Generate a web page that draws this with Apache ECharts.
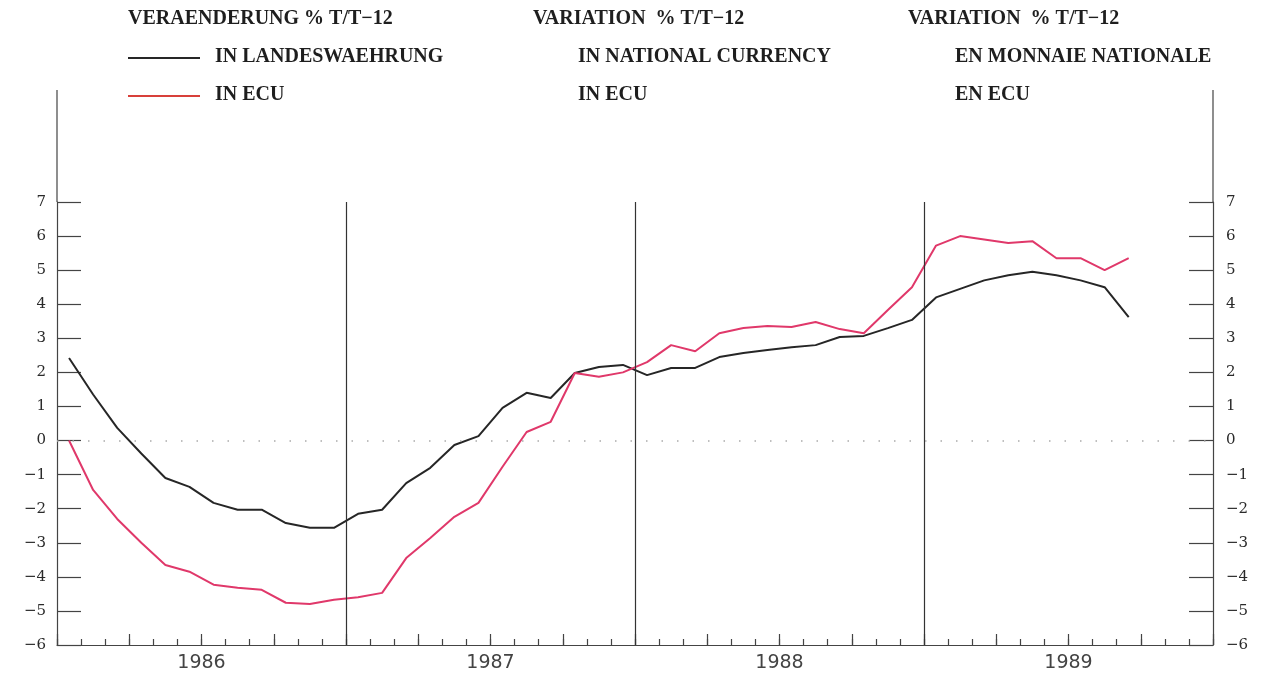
<!DOCTYPE html>
<html>
<head>
<meta charset="utf-8">
<script src="https://cdn.jsdelivr.net/npm/echarts@6/dist/echarts.min.js"></script>
<style>html,body{margin:0;padding:0;background:#fff;}#c{width:1271px;height:679px;}</style>
</head>
<body>
<div id="c"></div>
<script>
// Monthly data, Jan 1986 .. Sep 1989
const years = ['1986', '1987', '1988', '1989'];
const yTicks = [-6, -5, -4, -3, -2, -1, 0, 1, 2, 3, 4, 5, 6, 7];
const inLandeswaehrung = [
  2.42, 1.35, 0.37, -0.38, -1.10, -1.36, -1.83, -2.03, -2.03, -2.42, -2.56, -2.56,
  -2.15, -2.03, -1.25, -0.80, -0.13, 0.13, 0.96, 1.40, 1.25, 1.98, 2.16, 2.22,
  1.92, 2.13, 2.13, 2.45, 2.57, 2.66, 2.74, 2.80, 3.04, 3.07, 3.30, 3.54,
  4.20, 4.45, 4.70, 4.85, 4.95, 4.85, 4.70, 4.50, 3.62
];
const inEcu = [
  0.00, -1.45, -2.30, -3.00, -3.65, -3.85, -4.23, -4.32, -4.38, -4.76, -4.80, -4.67,
  -4.60, -4.47, -3.45, -2.86, -2.24, -1.83, -0.77, 0.25, 0.55, 1.98, 1.87, 2.00,
  2.30, 2.80, 2.62, 3.15, 3.30, 3.36, 3.33, 3.48, 3.27, 3.15, 3.83, 4.50,
  5.72, 6.00, 5.90, 5.80, 5.85, 5.35, 5.35, 5.00, 5.35
];
const headerCols = [
  ['VERAENDERUNG % T/T\u221212', 'IN LANDESWAEHRUNG', 'IN ECU'],
  ['VARIATION  % T/T\u221212', 'IN NATIONAL CURRENCY', 'IN ECU'],
  ['VARIATION  % T/T\u221212', 'EN MONNAIE NATIONALE', 'EN ECU']
];

const nMonths = years.length * 12;
const toPairs = arr => arr.map((v, i) => [i + 0.5, v]);
const blackCol = '#262626';
const redCol = '#e0386a';
const axisCol = '#444';

const chart = echarts.init(document.getElementById('c'), null, {renderer: 'canvas'});

const hdrFont = {fontFamily: 'Liberation Serif', fontWeight: 'bold', fontSize: 20, fill: '#1e1e1e'};
const graphic = [];
const colX = [[128, 215], [533, 578], [908, 955]];
headerCols.forEach((col, ci) => {
  graphic.push({type: 'text', left: colX[ci][0], top: 9, style: Object.assign({text: col[0]}, hdrFont)});
  graphic.push({type: 'text', left: colX[ci][1], top: 47, style: Object.assign({text: col[1]}, hdrFont)});
  graphic.push({type: 'text', left: colX[ci][1], top: 85, style: Object.assign({text: col[2]}, hdrFont)});
});
graphic.push({type: 'line', shape: {x1: 128, y1: 58, x2: 200, y2: 58}, style: {stroke: blackCol, lineWidth: 2}});
graphic.push({type: 'line', shape: {x1: 128, y1: 96, x2: 200, y2: 96}, style: {stroke: '#d8403a', lineWidth: 2}});
// axis line extensions above the plot
graphic.push({type: 'line', shape: {x1: 57, y1: 90, x2: 57, y2: 202}, style: {stroke: axisCol, lineWidth: 1.2}});
graphic.push({type: 'line', shape: {x1: 1213, y1: 90, x2: 1213, y2: 202}, style: {stroke: axisCol, lineWidth: 1.2}});

const yLabel = {fontFamily: 'DejaVu Serif', fontSize: 15, color: '#2a2a2a'};

chart.setOption({
  animation: false,
  backgroundColor: '#ffffff',
  grid: {left: 57, right: 58, top: 202, bottom: 34, containLabel: false},
  graphic: graphic,
  xAxis: [
    {
      type: 'value', min: 0, max: nMonths, interval: 1, position: 'bottom',
      axisLine: {show: true, onZero: false, lineStyle: {color: axisCol, width: 1.2}},
      axisTick: {show: true, inside: true, length: 6, lineStyle: {color: axisCol, width: 1.2}},
      splitLine: {show: false},
      axisLabel: {
        margin: 9, fontFamily: 'DejaVu Sans', fontSize: 19, color: '#444',
        formatter: v => (v % 12 === 6 ? years[Math.floor(v / 12)] : '')
      }
    },
    {
      type: 'value', min: 0, max: nMonths, interval: 3, position: 'bottom', offset: 0,
      axisLine: {show: false, onZero: false},
      axisTick: {show: true, inside: true, length: 11, lineStyle: {color: axisCol, width: 1.2}},
      splitLine: {show: false},
      axisLabel: {show: false}
    }
  ],
  yAxis: [
    {
      type: 'value', min: yTicks[0], max: yTicks[yTicks.length - 1], interval: 1, position: 'left',
      axisLine: {show: true, onZero: false, lineStyle: {color: axisCol, width: 1.2}},
      axisTick: {show: true, inside: true, length: 24, lineStyle: {color: axisCol, width: 1.2}},
      splitLine: {show: false},
      axisLabel: Object.assign({margin: 11, formatter: v => String(v).replace('-', '\u2212')}, yLabel)
    },
    {
      type: 'value', min: yTicks[0], max: yTicks[yTicks.length - 1], interval: 1, position: 'right',
      axisLine: {show: true, onZero: false, lineStyle: {color: axisCol, width: 1.2}},
      axisTick: {show: true, inside: true, length: 24, lineStyle: {color: axisCol, width: 1.2}},
      splitLine: {show: false},
      axisLabel: Object.assign({margin: 13, formatter: v => String(v).replace('-', '\u2212')}, yLabel)
    }
  ],
  series: [
    {
      name: 'IN LANDESWAEHRUNG', type: 'line', xAxisIndex: 0, yAxisIndex: 0,
      data: toPairs(inLandeswaehrung), symbol: 'none', smooth: false,
      lineStyle: {color: blackCol, width: 2}, z: 3,
      markLine: {
        silent: true, symbol: 'none', label: {show: false},
        lineStyle: {color: '#333', width: 1.2, type: 'solid'},
        data: [{xAxis: 12}, {xAxis: 24}, {xAxis: 36}]
      }
    },
    {
      name: 'IN ECU', type: 'line', xAxisIndex: 0, yAxisIndex: 0,
      data: toPairs(inEcu), symbol: 'none', smooth: false,
      lineStyle: {color: redCol, width: 2}, z: 4,
      markLine: {
        silent: true, symbol: 'none', label: {show: false},
        lineStyle: {color: '#aaa', width: 1.6, type: [1.5, 14]},
        data: [{yAxis: 0}]
      }
    }
  ]
});
</script>
</body>
</html>
